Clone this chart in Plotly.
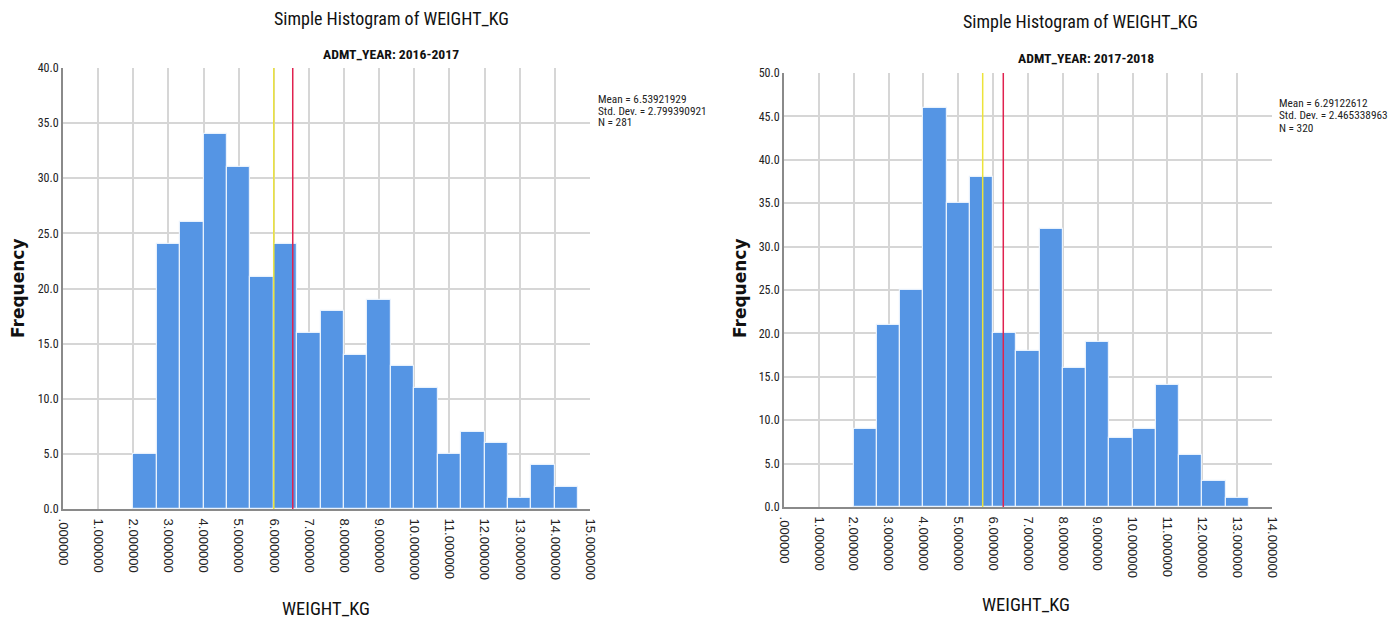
import plotly.graph_objects as go

W, H = 1400, 626

# ---- data ----
bin_start = 2.0
bin_width = 2.0 / 3.0
counts_1617 = [5, 24, 26, 34, 31, 21, 24, 16, 18, 14, 19, 13, 11, 5, 7, 6, 1, 4, 2]
counts_1718 = [9, 21, 25, 46, 35, 38, 20, 18, 32, 16, 19, 8, 9, 14, 6, 3, 1]
mean_1617, sd_1617, n_1617, median_1617 = 6.53921929, 2.799390921, 281, 6.0
mean_1718, sd_1718, n_1718, median_1718 = 6.29122612, 2.465338963, 320, 5.70
xticks_1617 = list(range(0, 16))
xticks_1718 = list(range(0, 15))
yticks_1617 = list(range(0, 41, 5))
yticks_1718 = list(range(0, 51, 5))
titles = ["Simple Histogram of WEIGHT_KG", "Simple Histogram of WEIGHT_KG"]
subtitles = ["ADMT_YEAR: 2016-2017", "ADMT_YEAR: 2017-2018"]

BAR = "#5595E4"
GRID = "#D6D6D6"
AXIS = "#8A8A8A"
NARROW = "Roboto Condensed, Liberation Sans Narrow, Arial Narrow, Roboto, sans-serif"
ARIAL = "Liberation Sans, Arial, sans-serif"


def px_x(p):
    return p / W


def px_y(p):
    return 1 - p / H


def fmt_tick(v):
    s = f"{v:.6f}"
    return s[1:] if v == 0 else s


fig = go.Figure()

panels = [
    dict(counts=counts_1617, mean=mean_1617, sd=sd_1617, n=n_1617, med=median_1617,
         xt=xticks_1617, yt=yticks_1617, xa="x", ya="y",
         xdom=(63, 590), ydom=(68, 509), title_xy=(391, 18), sub_xy=(391, 54),
         ytitle_xy=(18, 288), xtitle_xy=(326, 609), stats_xy=(596, 99)),
    dict(counts=counts_1718, mean=mean_1718, sd=sd_1718, n=n_1718, med=median_1718,
         xt=xticks_1718, yt=yticks_1718, xa="x2", ya="y2",
         xdom=(784, 1272), ydom=(73, 507), title_xy=(1080, 21), sub_xy=(1086, 58),
         ytitle_xy=(740, 288), xtitle_xy=(1026, 605), stats_xy=(1277, 104)),
]

layout_axes = {}
annotations = []
shapes = []
for i, p in enumerate(panels):
    centers = [bin_start + bin_width * (k + 0.5) for k in range(len(p["counts"]))]
    fig.add_trace(go.Bar(
        x=centers, y=p["counts"], width=bin_width,
        marker=dict(color=BAR, line=dict(color="rgba(235,243,253,0.95)", width=1.2)),
        xaxis=p["xa"], yaxis=p["ya"], showlegend=False, hoverinfo="x+y",
    ))
    xname = "xaxis" if i == 0 else "xaxis2"
    yname = "yaxis" if i == 0 else "yaxis2"
    layout_axes[xname] = dict(
        domain=[px_x(p["xdom"][0]), px_x(p["xdom"][1])],
        range=[p["xt"][0], p["xt"][-1]],
        tickmode="array", tickvals=p["xt"], ticktext=[fmt_tick(v) for v in p["xt"]],
        tickangle=90, tickfont=dict(family=ARIAL, size=13, color="#222"),
        showgrid=True, gridcolor=GRID, gridwidth=1.5,
        showline=True, linecolor=AXIS, linewidth=2,
        zeroline=False, ticks="outside", ticklen=5, tickcolor="rgba(0,0,0,0)",
        anchor=p["ya"].replace("axis", ""), automargin=False,
        fixedrange=True,
    )
    layout_axes[yname] = dict(
        domain=[px_y(p["ydom"][1]), px_y(p["ydom"][0])],
        range=[0, p["yt"][-1]],
        tickmode="array", tickvals=p["yt"], ticktext=[f"{v:.1f}" for v in p["yt"]],
        tickfont=dict(family=NARROW, size=12, color="#222"),
        showgrid=True, gridcolor=GRID, gridwidth=1.5,
        showline=True, linecolor=AXIS, linewidth=2,
        zeroline=False, ticks="", anchor=p["xa"].replace("axis", ""),
        automargin=False, fixedrange=True,
    )
    # median (yellow) and mean (red) reference lines
    for xv, col in [(p["med"], "#EDE33A"), (p["mean"], "#E0224F")]:
        shapes.append(dict(type="line", xref=p["xa"], yref=p["ya"],
                           x0=xv, x1=xv, y0=0, y1=p["yt"][-1],
                           line=dict(color=col, width=1.5)))
    annotations += [
        dict(text=titles[i], x=px_x(p["title_xy"][0]), y=px_y(p["title_xy"][1]),
             xref="paper", yref="paper", showarrow=False, xanchor="center", yanchor="middle",
             font=dict(family=NARROW, size=18, color="#111")),
        dict(text=f"<b>{subtitles[i]}</b>", x=px_x(p["sub_xy"][0]), y=px_y(p["sub_xy"][1]),
             xref="paper", yref="paper", showarrow=False, xanchor="center", yanchor="middle",
             font=dict(family=NARROW, size=13.7, color="#111")),
        dict(text="<b>Frequency</b>", x=px_x(p["ytitle_xy"][0]), y=px_y(p["ytitle_xy"][1]),
             xref="paper", yref="paper", showarrow=False, textangle=-90,
             xanchor="center", yanchor="middle",
             font=dict(family="DejaVu Sans, sans-serif", size=17, color="#111")),
        dict(text="WEIGHT_KG", x=px_x(p["xtitle_xy"][0]), y=px_y(p["xtitle_xy"][1]),
             xref="paper", yref="paper", showarrow=False, xanchor="center", yanchor="middle",
             font=dict(family=NARROW, size=18.5, color="#111")),
    ]
    stats_lines = [f"Mean = {p['mean']:.8f}", f"Std. Dev. = {p['sd']:.9f}", f"N = {p['n']}"]
    for j, line in enumerate(stats_lines):
        annotations.append(dict(
            text=line, x=px_x(p["stats_xy"][0]), y=px_y(p["stats_xy"][1] + 12 * j),
            xref="paper", yref="paper", showarrow=False, xanchor="left", yanchor="middle",
            align="left", font=dict(family=NARROW, size=11.3, color="#222")))

fig.update_layout(
    width=W, height=H,
    margin=dict(l=0, r=0, t=0, b=0),
    paper_bgcolor="white", plot_bgcolor="white",
    bargap=0, annotations=annotations, shapes=shapes,
    **layout_axes,
)

fig.write_html("out.html")
